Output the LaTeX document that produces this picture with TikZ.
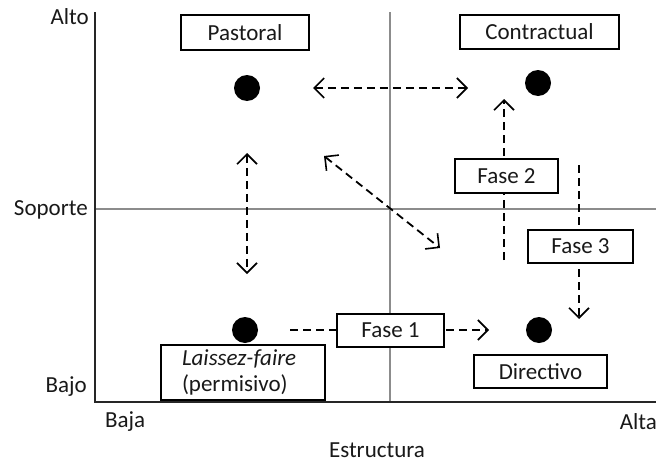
\documentclass[tikz,border=0pt]{standalone}
\usepackage{fontspec}
\setmainfont{Carlito}
\usetikzlibrary{arrows.meta}
\begin{document}
\begin{tikzpicture}[x=1pt,y=-1pt,
  lbl/.style={font=\fontsize{23}{26}\selectfont, text=black!90, inner sep=0pt},
  box/.style={draw=black, line width=1.8pt, fill=white, text=black!90, font=\fontsize{23}{26}\selectfont, inner sep=0pt},
  dot/.style={circle, fill=black, minimum size=26pt, inner sep=0pt},
  axis/.style={draw=black!85, line width=2pt},
  mid/.style={draw=black!45, line width=1.8pt},
  flow/.style={line width=1.8pt, dash pattern=on 8pt off 5pt, -{Straight Barb[length=10pt,width=20pt,line width=1.6pt]}},
  both/.style={flow, {Straight Barb[length=10pt,width=20pt,line width=1.6pt]}-{Straight Barb[length=10pt,width=20pt,line width=1.6pt]}}]
\useasboundingbox (0,0) rectangle (656,463);

% quadrant dividers
\coordinate (vt) at (390,12);  \coordinate (vb) at (390,402);
\coordinate (hl) at (95,209);  \coordinate (hr) at (656,209);
\draw[mid] (vt) -- (vb);
\draw[mid] (hl) -- (hr);

% axes
\coordinate (ytop) at (95,12); \coordinate (orig) at (95,402); \coordinate (xend) at (656,402);
\draw[axis] (ytop) -- (orig) -- (xend);

% axis labels
\node[lbl, anchor=east] (alto) at (89,17) {Alto};
\node[lbl, anchor=east] (soporte) at (88,210) {Soporte};
\node[lbl, anchor=east] (bajo) at (87,387) {Bajo};
\node[lbl, anchor=west] (baja) at (105,422) {Baja};
\node[lbl, anchor=east] (alta) at (657,422) {Alta};
\node[lbl] (estructura) at (377,450) {Estructura};

% styles as points
\node[dot] (pd) at (247,88) {};
\node[dot] (cd) at (538,83) {};
\node[dot] (ld) at (245,330) {};
\node[dot] (dd) at (539,330) {};

% arrow end points
\coordinate (h1) at (313,88);  \coordinate (h2) at (468,88);
\coordinate (v1) at (247,153); \coordinate (v2) at (247,274);
\coordinate (d1) at (324,156); \coordinate (d2) at (440,248);
\coordinate (f1s) at (290,330); \coordinate (f1e) at (489,330);
\coordinate (f2s) at (504,260); \coordinate (f2e) at (504,99);
\coordinate (f3s) at (579,165); \coordinate (f3e) at (579,319);

\draw[both] (h1) -- (h2);
\draw[both] (v1) -- (v2);
\draw[both] (d1) -- (d2);
\draw[flow] (f1s) -- (f1e);
\draw[flow] (f2s) -- (f2e);
\draw[flow] (f3s) -- (f3e);

% labelled boxes
\node[box, minimum width=128pt, minimum height=35pt] (pastoral) at (245,32.5) {Pastoral};
\node[box, minimum width=159pt, minimum height=34pt] (contractual) at (539.5,32) {Contractual};
\node[box, minimum width=164pt, minimum height=55pt, align=left, text width=122pt] (laissez) at (243,372.5)
  {\itshape Laissez-faire\\\upshape (permisivo)};
\node[box, minimum width=133pt, minimum height=33pt] (directivo) at (540.5,371.5) {Directivo};
\node[box, minimum width=107pt, minimum height=33pt] (fase1) at (390.5,330.5) {Fase 1};
\node[box, minimum width=103pt, minimum height=34pt] (fase2) at (506.5,176) {Fase 2};
\node[box, minimum width=105pt, minimum height=33pt] (fase3) at (580.5,246.5) {Fase 3};
\end{tikzpicture}
\end{document}
